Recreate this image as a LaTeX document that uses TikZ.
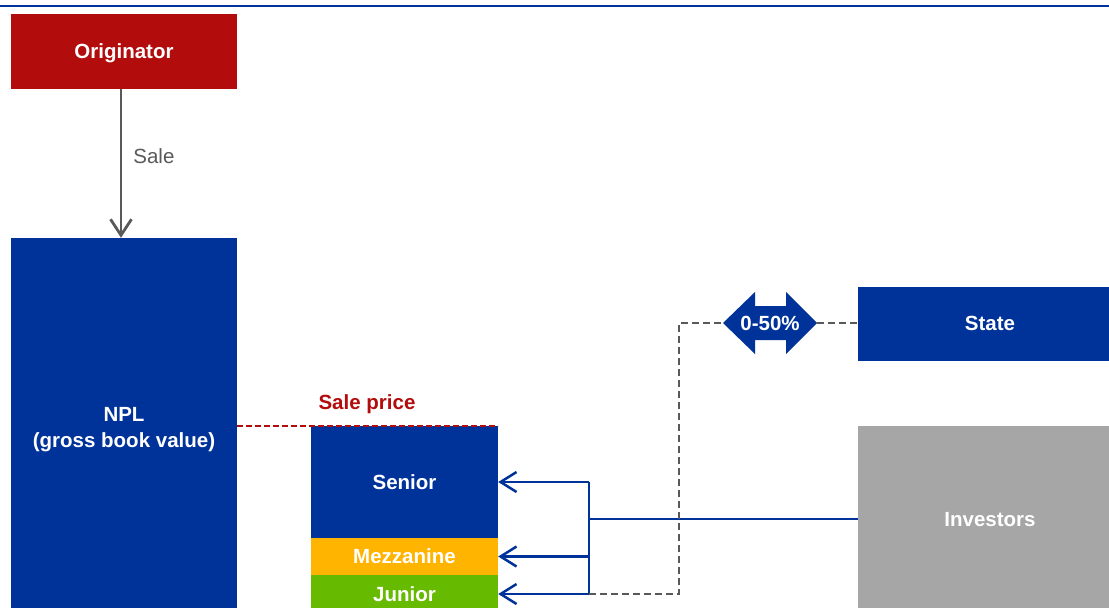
\documentclass[tikz,border=0pt]{standalone}
\usepackage{fontspec}
\setmainfont{Liberation Sans}
\usetikzlibrary{arrows.meta}
\definecolor{dblue}{HTML}{003399}
\definecolor{dred}{HTML}{B20C0C}
\definecolor{orng}{HTML}{FFB400}
\definecolor{grn}{HTML}{66BB00}
\definecolor{lgray}{HTML}{A6A6A6}
\definecolor{dgray}{HTML}{595959}
\tikzset{
  box/.style={fill=#1, draw=none, text=white, font=\fontsize{20.5}{26}\selectfont\bfseries, align=center, inner sep=0pt, text depth=0pt},
  blueline/.style={draw=dblue, line width=2.5pt},
  bluearrow/.style={blueline, -{Straight Barb[length=16pt,width=20pt,line width=2.5pt]}},
  grayarrow/.style={draw=dgray, line width=2.8pt, -{Straight Barb[length=16pt,width=21pt,line width=2.8pt]}},
  graydash/.style={draw=dgray, line width=2.6pt, dash pattern=on 7pt off 4pt},
  reddash/.style={draw=dred, line width=2.2pt, dash pattern=on 6pt off 3pt},
  lbl/.style={font=\fontsize{20.5}{24}\selectfont, inner sep=0pt}
}
\begin{document}
\begin{tikzpicture}[x=1pt,y=-1pt]
\useasboundingbox (0,0) rectangle (1109,608);
\draw[dblue, line width=2.8pt] (0,6) -- (1109,6);
% boxes
\node[box=dred, minimum width=226, minimum height=75] (orig) at (124,51.5) {Originator};
\node[box=dblue, minimum width=226, minimum height=378] (npl) at (124,427) {NPL\\(gross book value)};
\node[box=dblue, minimum width=187, minimum height=112] (senior) at (404.5,482) {Senior};
\node[box=orng, minimum width=187, minimum height=37] (mezz) at (404.5,556.5) {Mezzanine};
\node[box=grn, minimum width=187, minimum height=38] (junior) at (404.5,594) {Junior};
\node[box=dblue, minimum width=264, minimum height=74] (state) at (990,323.5) {State};
\node[box=lgray, minimum width=264, minimum height=186] (inv) at (990,519) {Investors};
% double arrow
\fill[dblue] (723,323) -- (755,292) -- (755,306) -- (786,306) -- (786,292) -- (817,323)
  -- (786,354) -- (786,340) -- (755,340) -- (755,354) -- cycle;
\coordinate (pctL) at (723,323);
\coordinate (pctR) at (817,323);
\node[box=dblue, fill=none] (pct) at (770,323) {0-50\%};
% sale arrow
\draw[grayarrow] ([xshift=-3pt]orig.south) -- ([xshift=-3pt]npl.north)
  node[pos=0.45, right=11pt, lbl, text=dgray] (salelbl) {Sale};
% sale price
\draw[reddash] (npl.east |- senior.north) -- (senior.north east);
\node[lbl, text=dred, font=\fontsize{20.5}{24}\selectfont\bfseries] (sp) at (367,404) {Sale price};
% blue connectors
\coordinate (j) at (589,519);
\draw[blueline] (inv.west |- j) -- (j);
\draw[blueline] (j |- senior.east) -- (j |- junior.east);
\draw[bluearrow] (j |- senior.east) -- (senior.east);
\draw[bluearrow] (j |- mezz.east) -- (mezz.east);
\draw[bluearrow] (j |- junior.east) -- (junior.east);
% gray dashed
\coordinate (dk) at (679,0);
\draw[graydash] (j |- junior.east) -- (dk |- junior.east) -- (dk |- pctL) -- (pctL);
\draw[graydash] (pctR) -- (state.west |- pctR);
\end{tikzpicture}
\end{document}
